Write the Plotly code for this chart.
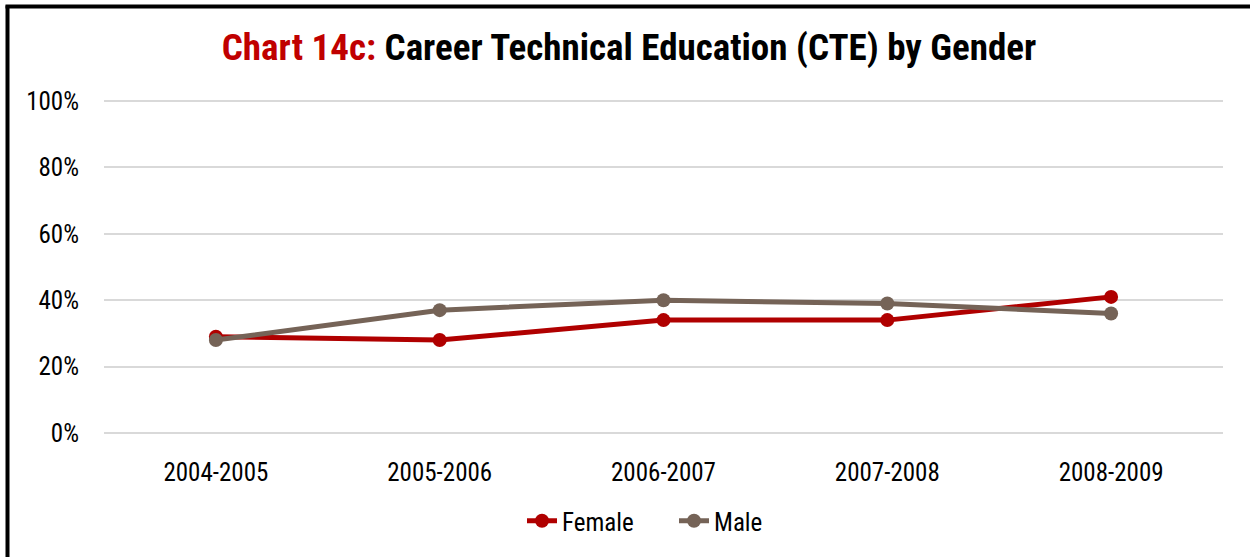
import plotly.graph_objects as go

years = ["2004-2005", "2005-2006", "2006-2007", "2007-2008", "2008-2009"]
female = [0.29, 0.28, 0.34, 0.34, 0.41]
male = [0.28, 0.37, 0.40, 0.39, 0.36]
y_ticks = [0, 0.2, 0.4, 0.6, 0.8, 1.0]
y_tick_labels = ["0%", "20%", "40%", "60%", "80%", "100%"]

FONT = "Liberation Sans Narrow, Arial Narrow, Roboto Condensed, Liberation Sans, Arial, sans-serif"
RED = "#B00000"
GRAY = "#756357"

W, H = 1250, 557
L, R, T, B = 104, 27, 99, 124
pw, ph = W - L - R, H - T - B
Y_TOP = 1.006

def px_x(p):
    return (p - L) / pw

def px_y(p):
    return (H - B - p) / ph

fig = go.Figure()
fig.add_trace(go.Scatter(x=years, y=female, name="Female", mode="lines+markers",
                         line=dict(color=RED, width=5), marker=dict(size=14, color=RED),
                         legend="legend"))
fig.add_trace(go.Scatter(x=years, y=male, name="Male", mode="lines+markers",
                         line=dict(color=GRAY, width=5), marker=dict(size=14, color=GRAY),
                         legend="legend2"))

fig.update_layout(
    width=W, height=H,
    margin=dict(l=L, r=R, t=T, b=B),
    paper_bgcolor="white", plot_bgcolor="white",
    font=dict(family=FONT, color="black", size=25),
    title=dict(
        text="<span style='color:#C00000'>Chart 14c:</span> Career Technical Education (CTE) by Gender",
        x=629 / W, xanchor="center", y=1 - 47 / H, yanchor="middle", yref="container",
        font=dict(family=FONT, size=37, color="black", weight="bold"),
    ),
    xaxis=dict(type="category", range=[-0.5, 4.5], showgrid=False, showline=False,
               zeroline=False, ticks="", ticklabelstandoff=22,
               tickfont=dict(size=25)),
    yaxis=dict(range=[0, Y_TOP], tickvals=y_ticks, ticktext=y_tick_labels,
               showgrid=True, gridcolor="#D9D9D9", gridwidth=2,
               zeroline=True, zerolinecolor="#D9D9D9", zerolinewidth=2,
               showline=False, ticks="", ticklabelstandoff=24,
               tickfont=dict(size=25)),
    legend=dict(orientation="h", x=px_x(522), xanchor="left", y=px_y(521), yanchor="middle",
                font=dict(size=25)),
    legend2=dict(orientation="h", x=px_x(674), xanchor="left", y=px_y(521), yanchor="middle",
                 font=dict(size=25)),
    showlegend=True,
    shapes=[
        dict(type="line", xref="paper", yref="paper",
             x0=px_x(7.5), x1=px_x(7.5), y0=px_y(5.5), y1=px_y(H),
             line=dict(color="black", width=4)),
        dict(type="line", xref="paper", yref="paper",
             x0=px_x(5.5), x1=px_x(W), y0=px_y(6.5), y1=px_y(6.5),
             line=dict(color="black", width=4)),
    ],
)

fig.write_html(
    "out.html", config={"displayModeBar": False},
    post_script=(
        "document.documentElement.style.margin='0';"
        "document.documentElement.style.overflow='hidden';"
        "document.documentElement.style.background='white';"
        "document.body.style.margin='0';document.body.style.overflow='hidden';"
        "document.body.style.background='white';"
    ),
)
